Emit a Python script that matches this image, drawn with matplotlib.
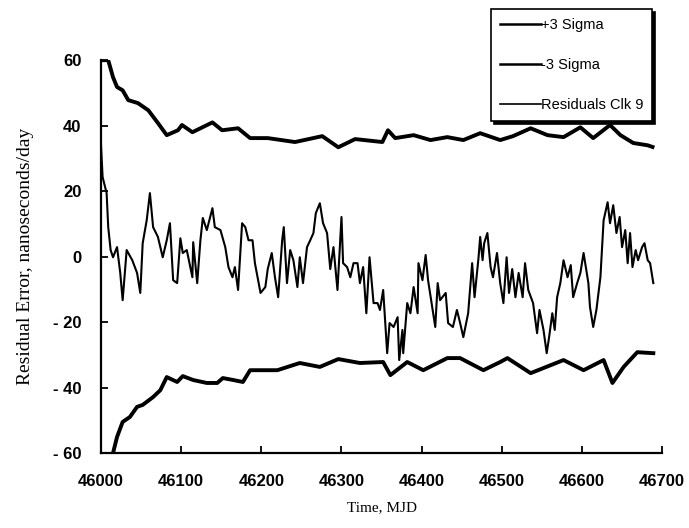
import numpy as np
import matplotlib.pyplot as plt

plt.rcParams['axes.unicode_minus'] = False

# +3 sigma envelope (MJD, ns/day)
up_t = [46000, 46009, 46015, 46020, 46027, 46034, 46046, 46059, 46071, 46082, 46096,
        46101, 46114, 46139, 46151, 46171, 46186, 46208, 46242, 46276, 46296, 46317,
        46351, 46358, 46367, 46390, 46411, 46432, 46452, 46473, 46498, 46514, 46536,
        46557, 46577, 46598, 46614, 46635, 46648, 46664, 46682, 46688]
up_v = [60, 60, 54.8, 51.8, 50.8, 47.8, 46.9, 44.7, 40.8, 37.1, 38.6,
        40.2, 38.0, 41.0, 38.6, 39.2, 36.2, 36.2, 35.0, 36.8, 33.4, 35.9,
        35.0, 38.6, 36.2, 37.1, 35.6, 36.5, 35.6, 37.7, 35.6, 36.8, 39.2,
        37.1, 36.5, 39.5, 36.2, 40.2, 37.1, 34.7, 34.0, 33.5]

# -3 sigma envelope
lo_t = [46008, 46015, 46020, 46027, 46036, 46045, 46052, 46065, 46074, 46082, 46095,
        46102, 46115, 46132, 46145, 46152, 46165, 46177, 46186, 46220, 46248, 46273,
        46296, 46323, 46352, 46361, 46382, 46402, 46432, 46448, 46477, 46498, 46507,
        46536, 46577, 46602, 46627, 46638, 46652, 46669, 46689]
lo_v = [-68, -60, -55.1, -50.5, -49.0, -45.9, -45.3, -42.9, -40.8, -36.8, -38.3,
        -36.5, -37.7, -38.6, -38.6, -37.1, -37.7, -38.3, -34.7, -34.7, -32.5, -33.7,
        -31.3, -32.5, -32.2, -36.2, -32.2, -34.7, -31.0, -31.0, -34.7, -32.2, -31.0,
        -35.6, -31.6, -34.7, -31.6, -38.6, -33.7, -29.2, -29.5]

# residuals of clock 9
res_t = [46000, 46002, 46007, 46009, 46012, 46015, 46020, 46024, 46027, 46032, 46039,
         46045, 46049, 46052, 46057, 46061, 46065, 46071, 46077, 46082, 46086, 46090,
         46095, 46099, 46102, 46107, 46114, 46115, 46120, 46124, 46127, 46132, 46139,
         46142, 46149, 46155, 46159, 46164, 46167, 46171, 46176, 46180, 46184, 46189,
         46192, 46199, 46205, 46208, 46213, 46217, 46221, 46226, 46228, 46232, 46236,
         46240, 46245, 46248, 46252, 46257, 46261, 46265, 46268, 46273, 46277, 46282,
         46286, 46290, 46295, 46300, 46302, 46307, 46311, 46315, 46320, 46323, 46327,
         46331, 46335, 46340, 46345, 46348, 46352, 46357, 46360, 46365, 46370, 46372,
         46376, 46377, 46382, 46386, 46390, 46395, 46396, 46401, 46405, 46408, 46417,
         46420, 46423, 46430, 46433, 46439, 46444, 46448, 46452, 46458, 46463, 46466,
         46471, 46473, 46476, 46478, 46482, 46486, 46489, 46494, 46498, 46502, 46506,
         46509, 46513, 46517, 46521, 46526, 46529, 46533, 46539, 46544, 46547, 46552,
         46556, 46559, 46563, 46566, 46569, 46573, 46577, 46582, 46586, 46589, 46594,
         46598, 46602, 46604, 46608, 46610, 46614, 46618, 46620, 46623, 46627, 46632,
         46635, 46639, 46643, 46647, 46650, 46654, 46657, 46660, 46663, 46667, 46670,
         46675, 46678, 46682, 46685, 46689]
res_v = [34, 24.3, 19.4, 9.0, 2.0, -0.2, 2.9, -5.0, -13.3, 2.0, -1.1,
         -5.0, -11.1, 4.1, 11.1, 19.4, 9.0, 6.0, -0.2, 5.0, 10.2, -7.2,
         -8.1, 5.6, 1.1, 2.0, -6.3, 4.4, -8.1, 5.0, 11.8, 8.1, 14.8,
         9.0, 8.1, 2.9, -3.2, -6.3, -3.2, -10.2, 10.2, 9.0, 5.0, 5.0,
         -2.0, -11.1, -9.3, -3.8, 1.1, -6.3, -12.4, 5.0, 9.0, -8.1, 2.0,
         -1.1, -9.3, -0.2, -8.1, 2.9, 5.0, 7.2, 13.3, 16.3, 10.2, 7.2,
         -3.8, 2.9, -10.2, 12.1, -2.0, -3.2, -6.3, -2.0, -2.0, -8.1, -3.2,
         -17.3, -0.2, -14.2, -14.2, -16.3, -10.2, -29.5, -20.3, -21.5, -18.5, -31.6,
         -22.4, -29.5, -14.2, -17.3, -9.3, -17.3, -2.0, -7.2, 0.5, -7.2, -21.5,
         -8.1, -13.3, -11.1, -20.3, -21.5, -16.3, -20.3, -24.6, -17.3, -2.0, -12.4,
         -0.2, 6.0, -1.1, 4.1, 7.2, -3.2, -6.3, 1.1, -8.1, -14.2, -0.2,
         -11.1, -3.8, -12.4, -5.0, -12.4, -2.0, -10.2, -14.2, -23.4, -16.3, -22.4,
         -29.5, -24.6, -17.3, -22.4, -12.4, -8.1, -1.1, -6.3, -2.6, -12.4, -8.1,
         -5.0, 1.1, -2.0, -8.1, -15.4, -21.5, -16.3, -12.4, -6.3, 11.1, 16.6,
         10.2, 15.7, 7.2, 12.1, 2.9, 8.1, -2.0, 7.2, -3.2, 2.0, -1.1,
         2.9, 4.1, -1.1, -2.0, -8.1]

x_ticks = [46000, 46100, 46200, 46300, 46400, 46500, 46600, 46700]
y_ticks = [-60, -40, -20, 0, 20, 40, 60]
y_labels = ['- 60', '- 40', '- 20', '0', '20', '40', '60']

fig = plt.figure(figsize=(6.89, 5.28), dpi=100)
ax = fig.add_axes([0.1466, 0.142, 0.8144, 0.744])

ax.plot(up_t, up_v, color='black', lw=2.8, label='+3 Sigma', solid_joinstyle='round')
ax.plot(lo_t, lo_v, color='black', lw=2.8, label='-3 Sigma', solid_joinstyle='round')
ax.plot(res_t, res_v, color='black', lw=1.5, label='Residuals Clk 9')

ax.set_xlim(46000, 46700)
ax.set_ylim(-60, 60)
ax.set_xticks(x_ticks)
ax.set_yticks(y_ticks, y_labels)
ax.spines['top'].set_visible(False)
ax.spines['right'].set_visible(False)
for s in ['left', 'bottom']:
    ax.spines[s].set_linewidth(1.6)
ax.tick_params(direction='in', length=5, width=1.3)
ax.tick_params(axis='y', pad=14)
ax.tick_params(axis='x', pad=15)
for lab in ax.get_xticklabels() + ax.get_yticklabels():
    lab.set_fontfamily('Liberation Sans')
    lab.set_fontweight('bold')
    lab.set_fontsize(12)

ax.set_xlabel('Time, MJD', family='Liberation Serif', fontsize=11, labelpad=9)
ax.set_ylabel('Residual Error, nanoseconds/day', family='Liberation Serif',
              fontsize=14, labelpad=14)

leg = ax.legend(loc='upper left', bbox_to_anchor=(491 / 689, 1 - 9 / 528),
                bbox_transform=fig.transFigure, frameon=True,
                fancybox=False, shadow={'color': 'black', 'alpha': 1},
                handlelength=2.8, handletextpad=0.0, labelspacing=1.8,
                borderpad=0.6, borderaxespad=0,
                prop={'family': 'Liberation Sans', 'size': 10.5})
leg.get_frame().set_edgecolor('black')
leg.get_frame().set_linewidth(1.2)
for h, w in zip(leg.get_lines(), [1.8, 1.8, 1.2]):
    h.set_linewidth(w)

fig.savefig('out.png', dpi=100)
